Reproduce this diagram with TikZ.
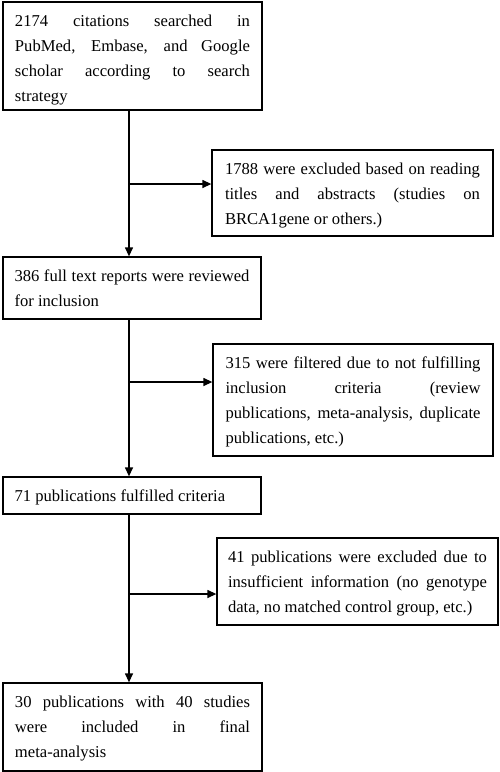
\documentclass[tikz,border=0pt]{standalone}
\usepackage{fontspec}
\setmainfont{Liberation Serif}
\usetikzlibrary{arrows.meta}
\hbadness=10000
\newcommand\jline[1]{\hbox to\hsize{\vrule height12pt depth4pt width0pt\relax #1}}
\newcommand\lline[1]{\hbox to\hsize{\vrule height12pt depth4pt width0pt\relax #1\hfil}}
\newcommand\boxtext[3]{\parbox[c][#1][t]{#2}{\vskip12pt #3}}
\begin{document}
\begin{tikzpicture}[x=1pt,y=1pt,
  box/.style={draw, line width=1.3pt, rectangle, inner sep=0pt,
    font=\fontsize{16.6}{25}\selectfont},
  arr/.style={line width=1.3pt, -{Triangle[length=9pt,width=8pt]}}]
\fill[white] (0,0) rectangle (500,-772);
\useasboundingbox (0,0) rectangle (500,-772);
\node[box, minimum width=259pt, minimum height=108pt] (b1) at (132.5,-56)
 {\boxtext{108pt}{235pt}{\jline{2174 citations searched in}\jline{PubMed, Embase, and Google}\jline{scholar according to search}\lline{strategy}}};
\node[box, minimum width=281pt, minimum height=86pt] (b2) at (352.5,-193)
 {\boxtext{86pt}{255pt}{\jline{1788 were excluded based on reading}\jline{titles and abstracts (studies on}\lline{BRCA1gene or others.)}}};
\node[box, minimum width=258pt, minimum height=62pt] (b3) at (132,-288)
 {\boxtext{62pt}{235pt}{\jline{386 full text reports were reviewed}\lline{for inclusion}}};
\node[box, minimum width=280pt, minimum height=112pt] (b4) at (353,-400)
 {\boxtext{112pt}{255pt}{\jline{315 were filtered due to not fulfilling}\jline{inclusion criteria (review}\jline{publications, meta-analysis, duplicate}\lline{publications, etc.)}}};
\node[box, minimum width=258pt, minimum height=37pt] (b5) at (132,-495.5)
 {\boxtext{37pt}{235pt}{\lline{71 publications fulfilled criteria}}};
\node[box, minimum width=281pt, minimum height=87pt] (b6) at (357.5,-581.5)
 {\boxtext{87pt}{259pt}{\jline{41 publications were excluded due to}\jline{insufficient information (no genotype}\lline{data, no matched control group, etc.)}}};
\node[box, minimum width=259pt, minimum height=88pt] (b7) at (132.5,-727)
 {\boxtext{88pt}{235pt}{\jline{30 publications with 40 studies}\jline{were included in final}\lline{meta-analysis}}};
\coordinate (h1) at (129,-184);
\coordinate (h2) at (129,-382);
\coordinate (h3) at (129,-594);
\draw[arr] (b1.south -| h1) -- (b3.north -| h1);
\draw[arr] (b3.south -| h2) -- (b5.north -| h2);
\draw[arr] (b5.south -| h3) -- (b7.north -| h3);
\draw[arr] (h1) -- (h1 -| b2.west);
\draw[arr] (h2) -- (h2 -| b4.west);
\draw[arr] (h3) -- (h3 -| b6.west);
\end{tikzpicture}
\end{document}
